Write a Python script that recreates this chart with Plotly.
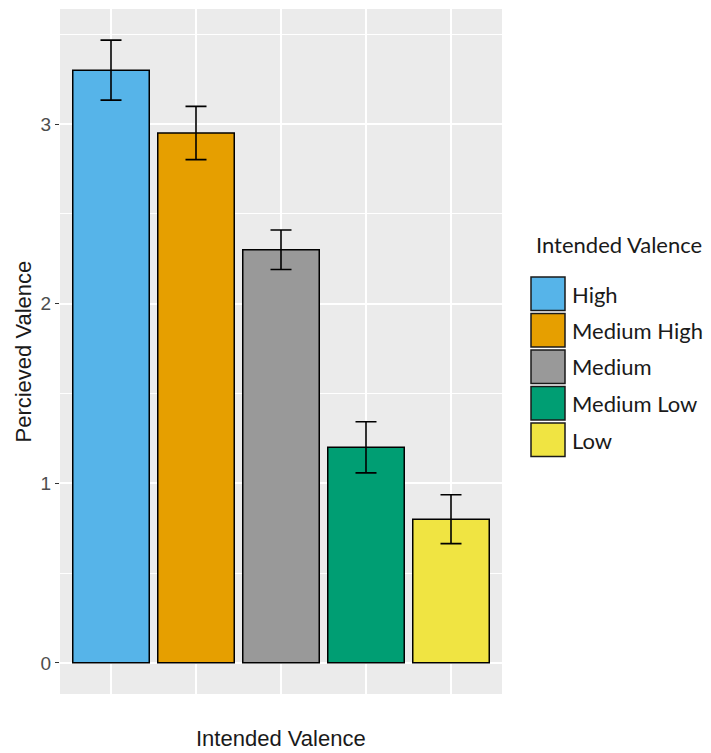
import plotly.graph_objects as go

categories = ["High", "Medium High", "Medium", "Medium Low", "Low"]
values = [3.30, 2.95, 2.30, 1.20, 0.80]
errors = [0.167, 0.148, 0.11, 0.142, 0.136]
colors = ["#56B4E9", "#E69F00", "#999999", "#009E73", "#F0E442"]
y_ticks = [0, 1, 2, 3]

OFF = 8  # page body margin
W, H = 711 - OFF, 753 - OFF
PX0, PX1, PY0, PY1 = 60, 502, 9, 694  # panel in screen pixels
L = PX0 - OFF
T = PY0 - OFF
R = W - L - (PX1 - PX0)
B = H - T - (PY1 - PY0)
pw, ph = PX1 - PX0, PY1 - PY0

def px(x):
    return (x - PX0) / pw

def py(y):
    return (PY1 - y) / ph

top = max(v + e for v, e in zip(values, errors))
yr = [-0.05 * top, top * 1.05]

fig = go.Figure()
fig.add_trace(go.Bar(
    x=categories, y=values, width=0.9,
    marker=dict(color=colors, line=dict(color="black", width=1.5)),
    error_y=dict(type="data", array=errors, color="black", thickness=1.6, width=10.5),
    showlegend=False, hoverinfo="x+y",
))

shapes = []
annotations = []
ky0 = 277
step = 36.5
for i, (c, col) in enumerate(zip(categories, colors)):
    y0 = ky0 + i * step
    shapes.append(dict(type="rect", xref="paper", yref="paper",
                       x0=px(531), x1=px(565), y0=py(y0), y1=py(y0 + 33.5),
                       fillcolor=col, line=dict(color="#1a1a1a", width=1.5), layer="above"))
    annotations.append(dict(text=c, xref="paper", yref="paper", x=px(570), y=py(y0 + 17),
                            xanchor="left", yanchor="middle", showarrow=False,
                            font=dict(family="Lato", size=22, color="#1a1a1a")))
annotations.append(dict(text="Intended Valence", xref="paper", yref="paper", x=px(534), y=py(245),
                        xanchor="left", yanchor="middle", showarrow=False,
                        font=dict(family="Lato", size=22, color="#1a1a1a")))
annotations.append(dict(text="Intended Valence", xref="paper", yref="paper", x=0.5, y=py(738),
                        xanchor="center", yanchor="middle", showarrow=False,
                        font=dict(family="Liberation Sans", size=22, color="#1a1a1a")))
annotations.append(dict(text="Percieved Valence", xref="paper", yref="paper", x=px(23), y=0.5,
                        xanchor="center", yanchor="middle", showarrow=False, textangle=-90,
                        font=dict(family="Liberation Sans", size=22, color="#1a1a1a")))

fig.update_layout(
    width=W, height=H,
    margin=dict(l=L, r=R, t=T, b=B),
    paper_bgcolor="white", plot_bgcolor="#EBEBEB",
    shapes=shapes, annotations=annotations,
    xaxis=dict(range=[-0.6, 4.6], showticklabels=False, ticks="", showgrid=True,
               gridcolor="white", gridwidth=1.6, zeroline=False, showline=False),
    yaxis=dict(range=yr, tickvals=y_ticks, ticks="outside", ticklen=4, tickwidth=1.2,
               tickcolor="#333333", showgrid=True, gridcolor="white", gridwidth=1.8,
               zeroline=False, showline=False,
               tickfont=dict(family="Liberation Sans", size=19, color="#4D4D4D"),
               minor=dict(dtick=0.5, tick0=0, showgrid=True, gridcolor="white", gridwidth=0.8)),
)
fig.write_html("out.html")
